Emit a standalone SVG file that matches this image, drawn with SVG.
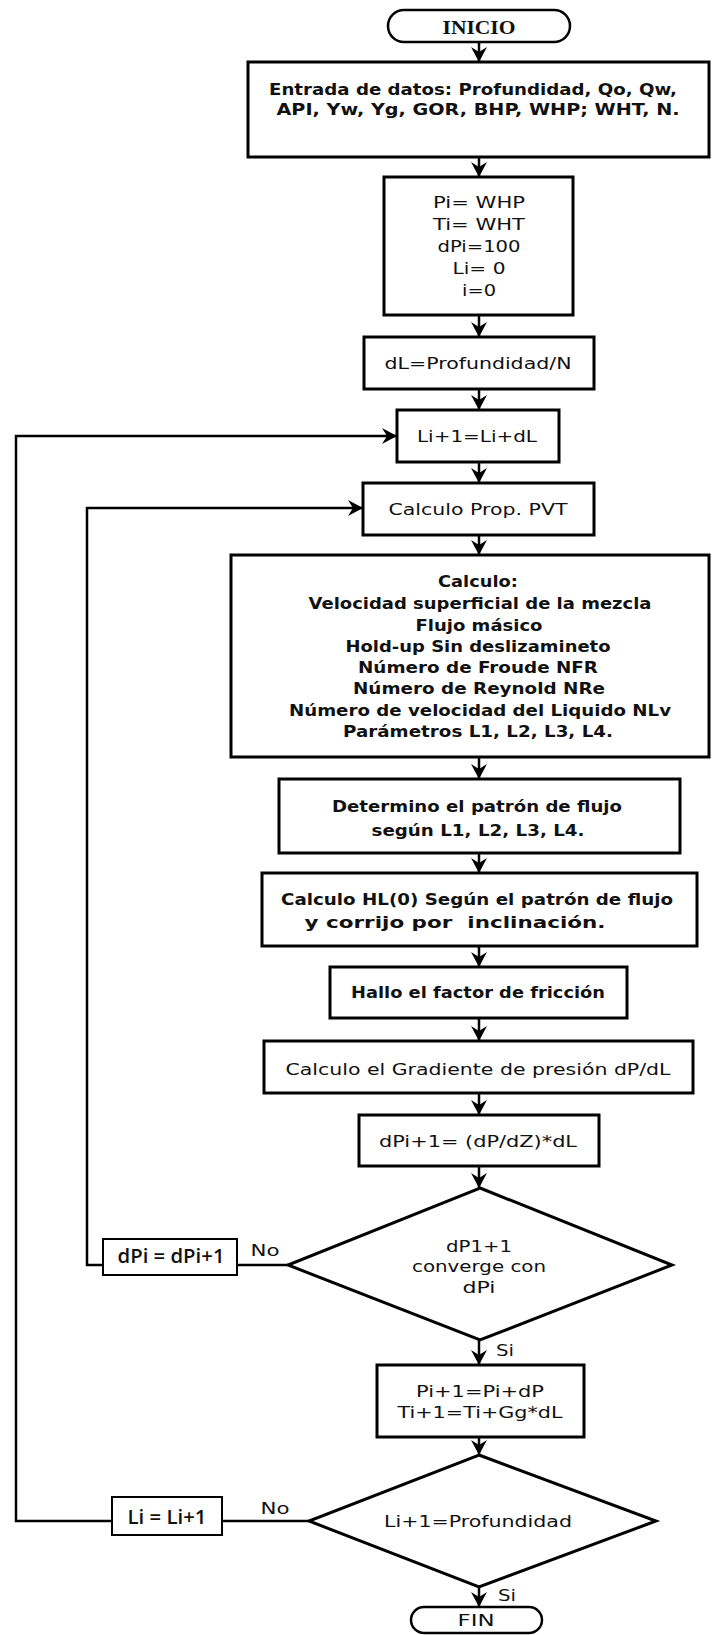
<svg xmlns="http://www.w3.org/2000/svg" width="717" height="1635" viewBox="0 0 717 1635">
<style>
.box{fill:#fff;stroke:#000;stroke-width:3}
.term{fill:#fff;stroke:#000;stroke-width:2.5}
.ln{fill:none;stroke:#000;stroke-width:2.5}
.t{font-family:"DejaVu Sans",Verdana,sans-serif;font-size:15px;fill:#111;text-anchor:middle;dominant-baseline:central}
.b{font-weight:bold}
.s{font-family:"Liberation Serif",serif;font-weight:bold;font-size:19px;fill:#111;text-anchor:middle;dominant-baseline:central}
.c{font-family:"Open Sans",sans-serif;font-size:19px;font-weight:600;fill:#111;text-anchor:middle;dominant-baseline:central}
.l{font-family:"DejaVu Sans",Verdana,sans-serif;font-size:16px;fill:#111;text-anchor:middle;dominant-baseline:central}
</style>
<defs>
<marker id="ah" markerUnits="userSpaceOnUse" markerWidth="16" markerHeight="16" refX="15" refY="8" orient="auto">
<path d="M0,0 L15,8 L0,16 L5,8 z" fill="#000"/>
</marker>
</defs>
<g id="connectors">
<line class="ln" x1="479" y1="42" x2="479" y2="62" marker-end="url(#ah)"/>
<line class="ln" x1="479" y1="157" x2="479" y2="177" marker-end="url(#ah)"/>
<line class="ln" x1="479" y1="315" x2="479" y2="337" marker-end="url(#ah)"/>
<line class="ln" x1="479" y1="389" x2="479" y2="410" marker-end="url(#ah)"/>
<line class="ln" x1="479" y1="462" x2="479" y2="483" marker-end="url(#ah)"/>
<line class="ln" x1="479" y1="535" x2="479" y2="555" marker-end="url(#ah)"/>
<line class="ln" x1="479" y1="757" x2="479" y2="779" marker-end="url(#ah)"/>
<line class="ln" x1="479" y1="853" x2="479" y2="873" marker-end="url(#ah)"/>
<line class="ln" x1="479" y1="946" x2="479" y2="967" marker-end="url(#ah)"/>
<line class="ln" x1="479" y1="1018" x2="479" y2="1041" marker-end="url(#ah)"/>
<line class="ln" x1="479" y1="1093" x2="479" y2="1115" marker-end="url(#ah)"/>
<line class="ln" x1="479" y1="1166" x2="479" y2="1188" marker-end="url(#ah)"/>
<line class="ln" x1="479" y1="1340" x2="479" y2="1365" marker-end="url(#ah)"/>
<line class="ln" x1="479" y1="1437" x2="479" y2="1455" marker-end="url(#ah)"/>
<line class="ln" x1="479" y1="1587" x2="479" y2="1607" marker-end="url(#ah)"/>
<line class="ln" x1="288" y1="1265" x2="237" y2="1265"/>
<polyline class="ln" points="103,1265 87,1265 87,508 363,508" marker-end="url(#ah)"/>
<line class="ln" x1="309" y1="1521" x2="222" y2="1521"/>
<polyline class="ln" points="112,1521 16,1521 16,436 397,436" marker-end="url(#ah)"/>
<text class="l" x="265" y="1250" textLength="29" lengthAdjust="spacingAndGlyphs">No</text>
<text class="l" x="505" y="1350" textLength="18" lengthAdjust="spacingAndGlyphs">Si</text>
<text class="l" x="275" y="1508" textLength="29" lengthAdjust="spacingAndGlyphs">No</text>
<text class="l" x="507" y="1595" textLength="18" lengthAdjust="spacingAndGlyphs">Si</text>
</g>
<g id="inicio">
<rect class="term" x="388" y="10" width="182" height="32" rx="16"/>
<text class="s" x="479" y="27" textLength="73" lengthAdjust="spacingAndGlyphs">INICIO</text>
</g>
<g id="entrada">
<rect class="box" x="248" y="62" width="461" height="95"/>
<text class="t b" x="473" y="90" textLength="408" lengthAdjust="spacingAndGlyphs">Entrada de datos: Profundidad, Qo, Qw,</text>
<text class="t b" x="478" y="110" textLength="403" lengthAdjust="spacingAndGlyphs">API, Yw, Yg, GOR, BHP, WHP; WHT, N.</text>
</g>
<g id="init">
<rect class="box" x="384" y="177" width="189" height="138"/>
<text class="t" x="479" y="203" textLength="92" lengthAdjust="spacingAndGlyphs">Pi= WHP</text>
<text class="t" x="479" y="225" textLength="92" lengthAdjust="spacingAndGlyphs">Ti= WHT</text>
<text class="t" x="479" y="247" textLength="83" lengthAdjust="spacingAndGlyphs">dPi=100</text>
<text class="t" x="479" y="269" textLength="53" lengthAdjust="spacingAndGlyphs">Li= 0</text>
<text class="t" x="479" y="291" textLength="34" lengthAdjust="spacingAndGlyphs">i=0</text>
</g>
<g id="dl">
<rect class="box" x="364" y="337" width="230" height="52"/>
<text class="t" x="478" y="364" textLength="187" lengthAdjust="spacingAndGlyphs">dL=Profundidad/N</text>
</g>
<g id="li">
<rect class="box" x="397" y="410" width="162" height="52"/>
<text class="t" x="477" y="437" textLength="120" lengthAdjust="spacingAndGlyphs">Li+1=Li+dL</text>
</g>
<g id="pvt">
<rect class="box" x="363" y="483" width="231" height="52"/>
<text class="t" x="478" y="510" textLength="179" lengthAdjust="spacingAndGlyphs">Calculo Prop. PVT</text>
</g>
<g id="calculo">
<rect class="box" x="231" y="555" width="478" height="202"/>
<text class="t b" x="478" y="582" textLength="80" lengthAdjust="spacingAndGlyphs">Calculo:</text>
<text class="t b" x="480" y="604" textLength="343" lengthAdjust="spacingAndGlyphs">Velocidad superficial de la mezcla</text>
<text class="t b" x="479" y="626" textLength="127" lengthAdjust="spacingAndGlyphs">Flujo másico</text>
<text class="t b" x="478" y="647" textLength="265" lengthAdjust="spacingAndGlyphs">Hold-up Sin deslizamineto</text>
<text class="t b" x="478" y="668" textLength="240" lengthAdjust="spacingAndGlyphs">Número de Froude NFR</text>
<text class="t b" x="479" y="689" textLength="252" lengthAdjust="spacingAndGlyphs">Número de Reynold NRe</text>
<text class="t b" x="480" y="711" textLength="382" lengthAdjust="spacingAndGlyphs">Número de velocidad del Liquido NLv</text>
<text class="t b" x="478" y="732" textLength="270" lengthAdjust="spacingAndGlyphs">Parámetros L1, L2, L3, L4.</text>
</g>
<g id="determino">
<rect class="box" x="279" y="779" width="401" height="74"/>
<text class="t b" x="477" y="807" textLength="290" lengthAdjust="spacingAndGlyphs">Determino el patrón de flujo</text>
<text class="t b" x="478" y="831" textLength="213" lengthAdjust="spacingAndGlyphs">según L1, L2, L3, L4.</text>
</g>
<g id="hl">
<rect class="box" x="262" y="873" width="435" height="73"/>
<text class="t b" x="477" y="900" textLength="392" lengthAdjust="spacingAndGlyphs">Calculo HL(0) Según el patrón de flujo</text>
<text class="t b" x="455" y="923" textLength="301" lengthAdjust="spacingAndGlyphs" style="white-space:pre">y corrijo por  inclinación.</text>
</g>
<g id="friccion">
<rect class="box" x="330" y="967" width="297" height="51"/>
<text class="t b" x="478" y="993" textLength="254" lengthAdjust="spacingAndGlyphs">Hallo el factor de fricción</text>
</g>
<g id="gradiente">
<rect class="box" x="264" y="1041" width="429" height="52"/>
<text class="t" x="478" y="1070" textLength="385" lengthAdjust="spacingAndGlyphs">Calculo el Gradiente de presión dP/dL</text>
</g>
<g id="dpi1">
<rect class="box" x="359" y="1115" width="240" height="51"/>
<text class="t" x="478" y="1142" textLength="198" lengthAdjust="spacingAndGlyphs">dPi+1= (dP/dZ)*dL</text>
</g>
<g id="decision1">
<polygon class="box" points="480,1188 672,1265 480,1340 288,1265"/>
<text class="t" x="479" y="1247" textLength="66" lengthAdjust="spacingAndGlyphs">dP1+1</text>
<text class="t" x="479" y="1267" textLength="134" lengthAdjust="spacingAndGlyphs">converge con</text>
<text class="t" x="479" y="1288" textLength="33" lengthAdjust="spacingAndGlyphs">dPi</text>
</g>
<g id="dpi-update">
<rect fill="#fff" stroke="#000" stroke-width="2" x="103" y="1239" width="134" height="36"/>
<text class="c" x="171" y="1256" textLength="107" lengthAdjust="spacingAndGlyphs">dPi = dPi+1</text>
</g>
<g id="update">
<rect class="box" x="377" y="1365" width="207" height="72"/>
<text class="t" x="480" y="1392" textLength="128" lengthAdjust="spacingAndGlyphs">Pi+1=Pi+dP</text>
<text class="t" x="480" y="1413" textLength="165" lengthAdjust="spacingAndGlyphs">Ti+1=Ti+Gg*dL</text>
</g>
<g id="decision2">
<polygon class="box" points="479,1455 656,1521 479,1587 309,1521"/>
<text class="t" x="478" y="1522" textLength="188" lengthAdjust="spacingAndGlyphs">Li+1=Profundidad</text>
</g>
<g id="li-update">
<rect fill="#fff" stroke="#000" stroke-width="2" x="112" y="1497" width="110" height="38"/>
<text class="c" x="167" y="1517" textLength="79" lengthAdjust="spacingAndGlyphs">Li = Li+1</text>
</g>
<g id="fin">
<rect class="term" x="411" y="1607" width="131" height="26" rx="13"/>
<text class="t" x="476" y="1621" textLength="37" lengthAdjust="spacingAndGlyphs">FIN</text>
</g>
</svg>
